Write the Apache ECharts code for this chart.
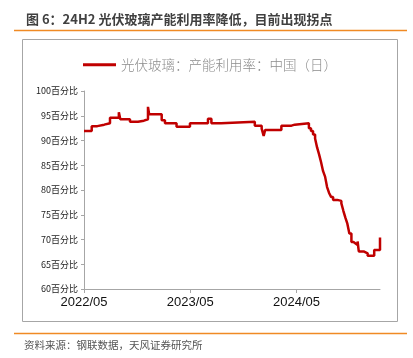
<!DOCTYPE html>
<html><head><meta charset="utf-8">
<script src="https://cdn.jsdelivr.net/npm/echarts@6/dist/echarts.min.js"></script>
<style>html,body{margin:0;padding:0;background:#fff}#c{width:413px;height:358px}</style>
</head><body><div id="c"></div>
<script>
const titleText = '图 6：24H2 光伏玻璃产能利用率降低，目前出现拐点';
const sourceText = '资料来源：钢联数据，天风证券研究所';
const seriesName = '光伏玻璃：产能利用率：中国（日）';
const xTickLabels = ['2022/05', '2023/05', '2024/05'];
const yUnit = '百分比';
const dates = [
 '2022-05-01','2022-05-28','2022-06-16','2022-07-10','2022-07-30','2022-08-30','2022-09-04',
 '2022-10-07','2022-11-04','2022-11-24','2022-12-08','2022-12-12','2023-01-25','2023-02-05',
 '2023-03-15','2023-04-30','2023-07-01','2023-07-13','2023-08-16','2023-12-10','2024-01-03',
 '2024-01-10','2024-01-15','2024-03-10','2024-04-14','2024-04-25','2024-06-13','2024-06-20',
 '2024-06-27','2024-07-04','2024-07-11','2024-07-18','2024-07-25','2024-08-01','2024-08-08',
 '2024-08-15','2024-08-22','2024-08-29','2024-09-05','2024-09-19','2024-10-03','2024-10-10',
 '2024-10-17','2024-10-24','2024-10-31','2024-11-07','2024-11-14','2024-11-21','2024-11-28',
 '2024-12-02','2024-12-19','2025-01-02','2025-01-25','2025-02-13'
];
const values = [
 91.9,92.9,93.2,93.5,94.6,95.7,94.3,
 93.8,94.0,94.3,96.8,95.3,94.1,93.5,
 92.8,93.5,94.4,93.5,93.8,93.0,92.4,
 90.9,92.1,93.0,93.2,93.5,92.5,91.9,
 91.2,90.4,88.6,87.2,85.6,83.8,82.7,
 80.6,79.4,78.6,78.0,77.8,77.3,75.8,
 74.4,73.2,71.2,69.5,69.2,68.9,69.6,
 67.6,67.2,66.7,67.9,70.4
];

const baseY = 2022, baseM = 5;
function monthsSince(s){
  const [y,m,d] = s.split('-').map(Number);
  const dim = new Date(y, m, 0).getDate();
  return (y-baseY)*12 + (m-baseM) + (d-1)/dim;
}
function labelFor(v){
  const idx = Math.round(v/12);
  return (Math.abs(v - idx*12) < 1e-6 && xTickLabels[idx]) ? xTickLabels[idx] : '';
}
const data = dates.map((d,i)=>[monthsSince(d), values[i]]);
const chart = echarts.init(document.getElementById('c'));
const cjk = '"Noto Sans CJK SC", sans-serif';
chart.setOption({
  animation:false,
  title:{text:titleText,left:21,top:8,textStyle:{fontSize:13,fontWeight:'bold',color:'#404040',fontFamily:cjk}},
  legend:{show:true,top:53,left:78,itemWidth:33,itemHeight:3,itemGap:6,icon:'rect',
    textStyle:{fontSize:13.5,color:'#8c8c8c',fontWeight:300,fontFamily:cjk}},
  grid:{left:84,right:33,top:91,bottom:69,containLabel:false},
  xAxis:{type:'value',min:0,max:monthsSince(dates[dates.length-1]),interval:12,
    splitLine:{show:false},
    axisLine:{lineStyle:{color:'#a6a6a6',width:1}},
    axisTick:{show:true,length:4,lineStyle:{color:'#a6a6a6'}},
    axisLabel:{formatter:labelFor,showMaxLabel:false,fontSize:13,color:'#111',fontFamily:'"Liberation Sans", Arial, sans-serif',margin:7}},
  yAxis:{type:'value',min:60,max:100,interval:5,
    splitLine:{show:false},
    axisLine:{show:true,lineStyle:{color:'#a6a6a6',width:1}},
    axisTick:{show:true,length:3,lineStyle:{color:'#a6a6a6'}},
    axisLabel:{formatter:'{value}'+yUnit,fontSize:9,color:'#222',fontFamily:cjk,margin:6}},
  series:[{name:seriesName,type:'line',step:'end',data:data,showSymbol:false,
    lineStyle:{color:'#c00000',width:2.5},itemStyle:{color:'#c00000'}}],
  graphic:[
    {type:'line',shape:{x1:14,y1:30.5,x2:407,y2:30.5},style:{stroke:'#f08a24',lineWidth:1.5}},
    {type:'rect',shape:{x:22.5,y:39.5,width:375,height:282},style:{fill:'none',stroke:'#a6a6a6',lineWidth:1}},
    {type:'line',shape:{x1:14,y1:333.5,x2:407,y2:333.5},style:{stroke:'#f08a24',lineWidth:1.5}},
    {type:'text',left:24,top:340,style:{text:sourceText,fontSize:10.5,fill:'#555',fontFamily:cjk}}
  ]
});
</script></body></html>
